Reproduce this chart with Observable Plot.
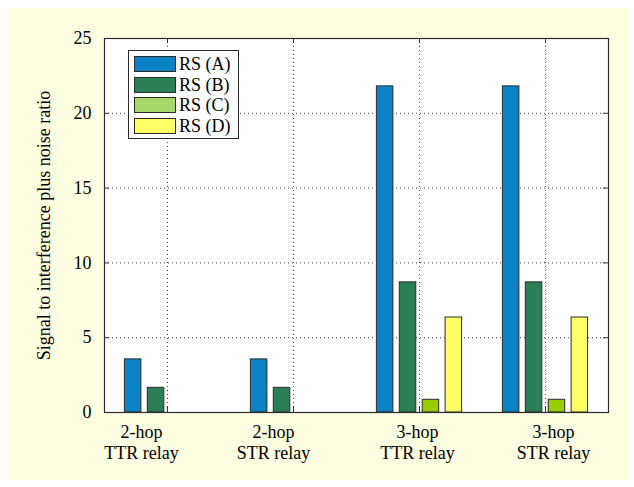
<!DOCTYPE html>
<html>
<head>
<meta charset="utf-8">
<script src="https://cdn.jsdelivr.net/npm/d3@7"></script>
<script src="https://cdn.jsdelivr.net/npm/@observablehq/plot@0.6"></script>
<style>
  html, body { margin: 0; padding: 0; background: #ffffff; }
  #wrap { position: relative; width: 634px; height: 487px; font-family: 'Liberation Serif', 'Times New Roman', serif; }
  #bg { position: absolute; left: 7px; top: 8px; width: 620px; height: 472px; background: #fefee2; }
  #chart { position: absolute; left: 0; top: 0; }
  #chart svg, #chart svg text { font-family: 'Liberation Serif', 'Times New Roman', serif !important; }
  #legend { position: absolute; left: 128px; top: 50px; width: 109px; height: 87px; border: 1px solid #2b2b2b; background: #fff; }
  .row { position: absolute; left: 5px; height: 16px; display: flex; align-items: center; }
  .sw { width: 40px; height: 14px; border: 1px solid #2b2b2b; margin-right: 3px; }
  .lab { font-size: 18px; color: #000; line-height: 16px; font-family: 'Liberation Serif', serif; }
</style>
</head>
<body>
<div id="wrap">
  <div id="bg"></div>
  <div id="chart"></div>
  <div id="legend"></div>
</div>
<script>
const categories = ["2-hop\nTTR relay", "2-hop\nSTR relay", "3-hop\nTTR relay", "3-hop\nSTR relay"];
const series = ["RS (A)", "RS (B)", "RS (C)", "RS (D)"];
const rsA = [3.55, 3.55, 21.8, 21.8];
const rsB = [1.65, 1.65, 8.7, 8.7];
const rsC = [0, 0, 0.85, 0.85];
const rsD = [0, 0, 6.35, 6.35];
const yTicks = [0, 5, 10, 15, 20, 25];
const barColors = ["#0b82c6", "#2a7f56", "#99cc00", "#ffff66"];
const legendColors = ["#0b82c6", "#2a7f56", "#a9d66a", "#ffff66"];
const labelDx = [-26, -20, -2, 8];

const values = [rsA, rsB, rsC, rsD];
const groupWidth = 4 / (4 + 1.5);
const step = groupWidth / 4;
const barW = step * 0.72;
const table = [];
categories.forEach((c, i) => {
  series.forEach((s, j) => {
    const center = (i + 1) + (j - 1.5) * step;
    table.push({cat: i + 1, series: s, x1: center - barW / 2, x2: center + barW / 2, v: values[j][i]});
  });
});
const xTicks = categories.map((c, i) => i + 1);

const W = 634, H = 487, mL = 104, mR = 26, mT = 38, mB = 75;
const pw = W - mL - mR, ph = H - mT - mB;

const plot = Plot.plot({
  width: W, height: H,
  marginLeft: mL, marginRight: mR, marginTop: mT, marginBottom: mB,
  style: {background: "transparent", fontFamily: "'Liberation Serif', 'Times New Roman', serif", fontSize: "18px", color: "#000"},
  x: {domain: [0.5, 4.5], axis: null},
  y: {domain: [0, 25], axis: null},
  color: {domain: series, range: barColors},
  marks: [
    Plot.frame({fill: "#ffffff", stroke: null}),
    Plot.gridX(xTicks, {stroke: "#000", strokeOpacity: 0.75, strokeDasharray: "1,3"}),
    Plot.gridY(yTicks.slice(1, -1), {stroke: "#000", strokeOpacity: 0.75, strokeDasharray: "1,3"}),
    Plot.rectY(table.filter(d => d.v > 0), {x1: "x1", x2: "x2", y: "v", fill: "series", stroke: "#2b2b2b", strokeWidth: 1}),
    Plot.tickY(yTicks, {y: d => d, stroke: "#333", insetRight: pw - 5}),
    Plot.tickY(yTicks, {y: d => d, stroke: "#333", insetLeft: pw - 5}),
    Plot.tickX(xTicks, {x: d => d, stroke: "#333", insetTop: ph - 5}),
    Plot.tickX(xTicks, {x: d => d, stroke: "#333", insetBottom: ph - 5}),
    Plot.frame({stroke: "#2b2b2b", strokeWidth: 1.2}),
    Plot.axisY(yTicks, {anchor: "left", tickSize: 0, tickPadding: 13, fontSize: 18,
      label: "Signal to interference plus noise ratio", labelAnchor: "center", labelOffset: 67, labelArrow: "none"}),
    ...categories.map((c, i) => Plot.text([i + 1], {x: d => d, frameAnchor: "bottom", text: () => c,
      lineAnchor: "top", dy: 11, dx: labelDx[i], lineHeight: 1.14, fontSize: 18, fill: "#000"}))
  ]
});
document.getElementById("chart").appendChild(plot);

const lg = document.getElementById("legend");
series.forEach((s, j) => {
  const row = document.createElement("div");
  row.className = "row";
  row.style.top = (5 + j * 20.5) + "px";
  const sw = document.createElement("div");
  sw.className = "sw";
  sw.style.background = legendColors[j];
  const lab = document.createElement("span");
  lab.className = "lab";
  lab.textContent = s;
  row.appendChild(sw);
  row.appendChild(lab);
  lg.appendChild(row);
});
</script>
</body>
</html>
